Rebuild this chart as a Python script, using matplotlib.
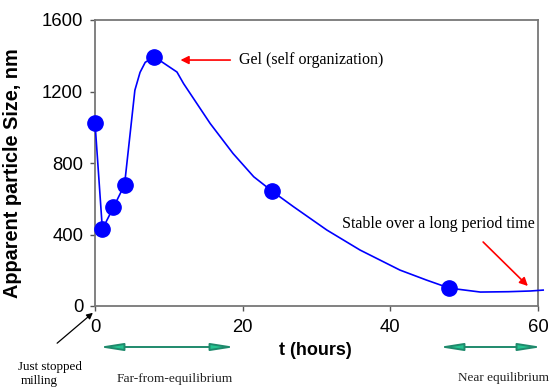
import matplotlib
matplotlib.use("Agg")
import matplotlib.pyplot as plt
import numpy as np

# Measured points (markers)
t_pts = [0, 1, 2.5, 4, 8, 24, 48]
size_pts = [1025, 430, 552, 678, 1395, 642, 100]

# Smoothed trend line
t_line = [0, 1, 2.5, 4, 5.4, 6.1, 6.8, 8, 11.1, 12.0, 15.6, 18.7, 21.5, 24,
          26.9, 31.4, 35.9, 41.3, 44.9, 48, 52.2, 56, 59, 60.7]
size_line = [1025, 430, 552, 678, 1207, 1307, 1363, 1395, 1309, 1244, 1021, 853, 723, 642,
             555, 425, 313, 201, 145, 100, 78, 80, 84, 89]

x_ticks = [0, 20, 40, 60]
y_ticks = [0, 400, 800, 1200, 1600]

W, H = 551, 388
fig = plt.figure(figsize=(W / 100, H / 100), dpi=100)
ax = fig.add_axes([95 / W, 1 - 306 / H, (538 - 95) / W, (306 - 20) / H])

sans = "Liberation Sans"
serif = "Liberation Serif"

ax.plot(t_line, size_line, color="#0000ff", lw=1.2, clip_on=False, zorder=3)
ax.plot(t_pts, size_pts, "o", color="#0000ff", ms=11, clip_on=False, zorder=4)

ax.set_xlim(0, 60)
ax.set_ylim(0, 1600)
ax.set_xticks(x_ticks)
ax.set_yticks(y_ticks)
ax.set_xticklabels([str(v) for v in x_ticks], family=sans, fontsize=13.3)
ax.set_yticklabels([str(v) for v in y_ticks], family=sans, fontsize=13.3)
ax.tick_params(axis="both", direction="out", length=3.5, width=1, color="#555555")
ax.tick_params(axis="x", pad=6)
ax.tick_params(axis="y", pad=5)
for s in ax.spines.values():
    s.set_color("#777777")
    s.set_linewidth(1.3)

ax.set_ylabel("Apparent particle Size, nm", family=sans, fontsize=14.3, fontweight="bold")
ax.yaxis.set_label_coords(-0.165, 0.465)
ax.set_xlabel("t (hours)", family=sans, fontsize=13, fontweight="bold", va="center")
ax.xaxis.set_label_coords(0.497, -0.155)

# In-plot annotations
ax.annotate("", xy=(11.2, 1376), xytext=(18.7, 1376),
            arrowprops=dict(arrowstyle="-|>", color="red", lw=1.2, mutation_scale=12))
ax.text(19.5, 1376, "Gel (self organization)", family=serif, fontsize=11.5, va="center", ha="left")

ax.text(33.5, 459, "Stable over a long period time", family=serif, fontsize=11.5, va="center", ha="left")
ax.annotate("", xy=(58.9, 101), xytext=(52.3, 369),
            arrowprops=dict(arrowstyle="-|>", color="red", lw=1.2, mutation_scale=12))

# Outside annotations (figure pixel coordinates)
ax.annotate("", xy=(95, H - 311), xytext=(55, H - 345), xycoords="figure pixels",
            textcoords="figure pixels",
            arrowprops=dict(arrowstyle="-|>", color="black", lw=0.9, mutation_scale=9))
fig.text(18 / W, 1 - 367 / H, "Just stopped", family=serif, fontsize=9.4, va="center", ha="left")
fig.text(21 / W, 1 - 381 / H, "milling", family=serif, fontsize=9.4, va="center", ha="left")
fig.text(117 / W, 1 - 379 / H, "Far-from-equilibrium", family=serif, fontsize=9.7, va="center", ha="left",
         color="#222222")
fig.text(458 / W, 1 - 378 / H, "Near equilibrium", family=serif, fontsize=9.5, va="center", ha="left",
         color="#222222")

for x0, x1 in [(96, 238), (436, 545)]:
    ax.annotate("", xy=(x1, H - 347), xytext=(x0, H - 347), xycoords="figure pixels",
                textcoords="figure pixels",
                arrowprops=dict(arrowstyle="<|-|>,head_length=1.4,head_width=0.22", fc="#26c491",
                                ec="#1f8a6c", lw=1.4, mutation_scale=10))

fig.savefig("out.png", dpi=100)
